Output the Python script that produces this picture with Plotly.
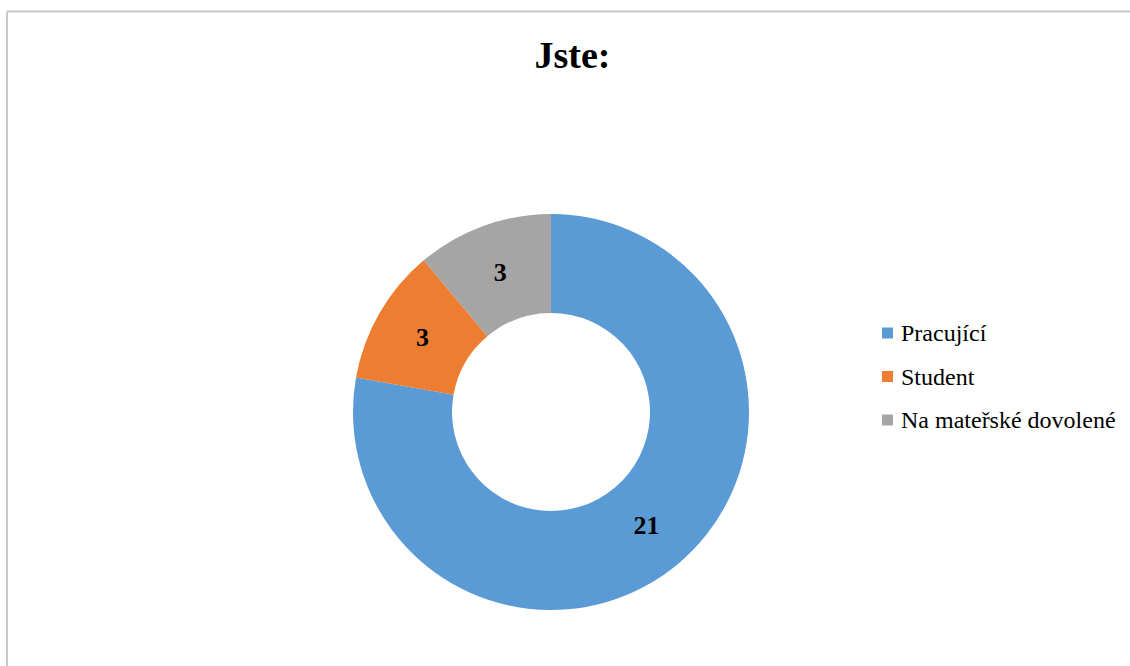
import plotly.graph_objects as go

categories = ["Pracující", "Student", "Na mateřské dovolené"]
values = [21, 3, 3]
colors = ["#5B9BD5", "#ED7D31", "#A5A5A5"]

W, H = 1130, 666
cx, cy, r = 551, 412, 198
SERIF = "Liberation Serif"

# legend layout (pixels)
LEG_MARK_X = 887.5
LEG_TEXT_X = 899
LEG_Y0 = 333
LEG_STEP = 43.5

fig = go.Figure()

# legend text first (regular serif)
leg_y = [LEG_Y0 + i * LEG_STEP for i in range(len(categories))]
for cat, yy in zip(categories, leg_y):
    fig.add_annotation(text=cat, x=LEG_TEXT_X / W, y=1 - yy / H, xref="paper", yref="paper",
                       showarrow=False, xanchor="left", yanchor="middle",
                       font=dict(family=SERIF, size=24))

fig.add_trace(go.Pie(
    labels=categories,
    values=values,
    hole=0.5,
    sort=False,
    direction="clockwise",
    rotation=0,
    marker=dict(colors=colors, line=dict(width=0)),
    texttemplate="<b>%{value}</b>",
    textposition="inside",
    insidetextorientation="horizontal",
    textfont=dict(family=SERIF, size=26, color="#000000"),
    domain=dict(x=[(cx - r) / W, (cx + r) / W], y=[1 - (cy + r) / H, 1 - (cy - r) / H]),
    hoverinfo="label+value",
    showlegend=False,
))

# legend square markers
fig.add_trace(go.Scatter(
    x=[LEG_MARK_X] * len(categories), y=leg_y, mode="markers",
    marker=dict(symbol="square", size=11, color=colors, line=dict(width=0)),
    showlegend=False, hoverinfo="skip", cliponaxis=False,
))

fig.update_layout(
    width=W, height=H,
    margin=dict(l=0, r=0, t=0, b=0),
    paper_bgcolor="white",
    plot_bgcolor="rgba(0,0,0,0)",
    annotationdefaults=dict(font=dict(color="#000000")),
    xaxis=dict(visible=False, range=[0, W], domain=[0, 1], fixedrange=True),
    yaxis=dict(visible=False, range=[H, 0], domain=[0, 1], fixedrange=True),
    showlegend=False,
    title=dict(text="<b>Jste:</b>", x=572.5 / W, xanchor="center", y=1 - 55 / H, yanchor="middle",
               font=dict(family=SERIF, size=38, color="#000000")),
    shapes=[
        dict(type="line", xref="paper", yref="paper", x0=7 / W, x1=1.2, y0=1 - 11.5 / H, y1=1 - 11.5 / H,
             line=dict(color="#C8C8C8", width=2)),
        dict(type="line", xref="paper", yref="paper", x0=7 / W, x1=7 / W, y0=1 - 11.5 / H, y1=-0.2,
             line=dict(color="#C8C8C8", width=2)),
    ],
)
for a in fig.layout.annotations:
    a.font.color = "#000000"

fig.write_html("out.html")
